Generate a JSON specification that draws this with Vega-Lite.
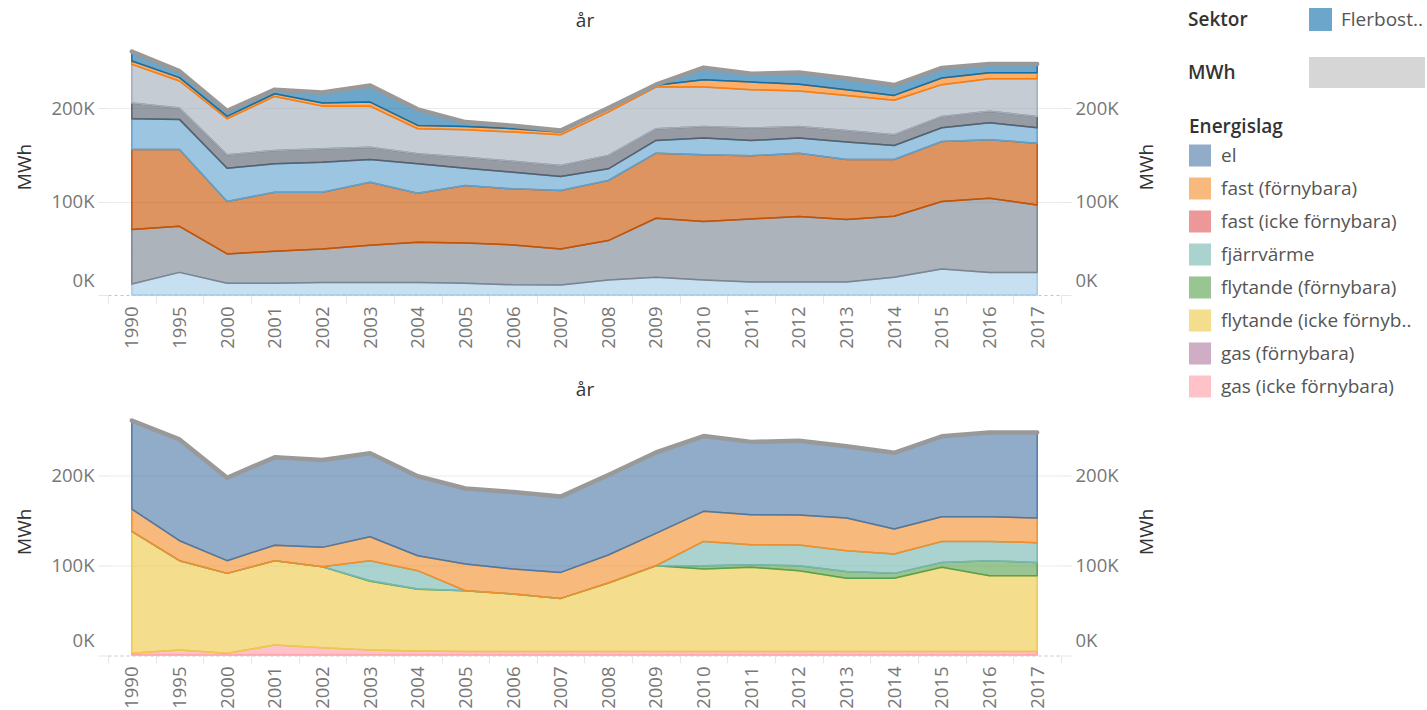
{
  "$schema": "https://vega.github.io/schema/vega-lite/v6.json",
  "padding": {"left": 15, "top": 8, "right": 0, "bottom": 0},
  "datasets": {
    "sektor": [
      {"år":"1990","Sektor":"Övrig tjänsteverksamhet","MWh":11800},{"år":"1995","Sektor":"Övrig tjänsteverksamhet","MWh":24200},{"år":"2000","Sektor":"Övrig tjänsteverksamhet","MWh":12500},{"år":"2001","Sektor":"Övrig tjänsteverksamhet","MWh":12500},{"år":"2002","Sektor":"Övrig tjänsteverksamhet","MWh":13500},{"år":"2003","Sektor":"Övrig tjänsteverksamhet","MWh":13500},{"år":"2004","Sektor":"Övrig tjänsteverksamhet","MWh":13500},{"år":"2005","Sektor":"Övrig tjänsteverksamhet","MWh":12500},{"år":"2006","Sektor":"Övrig tjänsteverksamhet","MWh":11000},{"år":"2007","Sektor":"Övrig tjänsteverksamhet","MWh":10700},{"år":"2008","Sektor":"Övrig tjänsteverksamhet","MWh":16000},{"år":"2009","Sektor":"Övrig tjänsteverksamhet","MWh":18900},{"år":"2010","Sektor":"Övrig tjänsteverksamhet","MWh":16000},{"år":"2011","Sektor":"Övrig tjänsteverksamhet","MWh":13900},{"år":"2012","Sektor":"Övrig tjänsteverksamhet","MWh":13900},{"år":"2013","Sektor":"Övrig tjänsteverksamhet","MWh":13900},{"år":"2014","Sektor":"Övrig tjänsteverksamhet","MWh":18900},{"år":"2015","Sektor":"Övrig tjänsteverksamhet","MWh":27800},{"år":"2016","Sektor":"Övrig tjänsteverksamhet","MWh":24200},{"år":"2017","Sektor":"Övrig tjänsteverksamhet","MWh":24200},
      {"år":"1990","Sektor":"Transporter","MWh":58200},{"år":"1995","Sektor":"Transporter","MWh":49300},{"år":"2000","Sektor":"Transporter","MWh":31400},{"år":"2001","Sektor":"Transporter","MWh":34300},{"år":"2002","Sektor":"Transporter","MWh":35800},{"år":"2003","Sektor":"Transporter","MWh":39700},{"år":"2004","Sektor":"Transporter","MWh":42900},{"år":"2005","Sektor":"Transporter","MWh":43200},{"år":"2006","Sektor":"Transporter","MWh":42600},{"år":"2007","Sektor":"Transporter","MWh":38600},{"år":"2008","Sektor":"Transporter","MWh":42200},{"år":"2009","Sektor":"Transporter","MWh":63200},{"år":"2010","Sektor":"Transporter","MWh":62600},{"år":"2011","Sektor":"Transporter","MWh":67500},{"år":"2012","Sektor":"Transporter","MWh":70000},{"år":"2013","Sektor":"Transporter","MWh":66800},{"år":"2014","Sektor":"Transporter","MWh":65400},{"år":"2015","Sektor":"Transporter","MWh":72200},{"år":"2016","Sektor":"Transporter","MWh":79400},{"år":"2017","Sektor":"Transporter","MWh":72200},
      {"år":"1990","Sektor":"Småhus","MWh":85700},{"år":"1995","Sektor":"Småhus","MWh":82200},{"år":"2000","Sektor":"Småhus","MWh":56100},{"år":"2001","Sektor":"Småhus","MWh":63200},{"år":"2002","Sektor":"Småhus","MWh":60700},{"år":"2003","Sektor":"Småhus","MWh":67500},{"år":"2004","Sektor":"Småhus","MWh":52500},{"år":"2005","Sektor":"Småhus","MWh":61400},{"år":"2006","Sektor":"Småhus","MWh":60000},{"år":"2007","Sektor":"Småhus","MWh":62500},{"år":"2008","Sektor":"Småhus","MWh":64300},{"år":"2009","Sektor":"Småhus","MWh":69700},{"år":"2010","Sektor":"Småhus","MWh":71400},{"år":"2011","Sektor":"Småhus","MWh":67600},{"år":"2012","Sektor":"Småhus","MWh":67900},{"år":"2013","Sektor":"Småhus","MWh":64300},{"år":"2014","Sektor":"Småhus","MWh":60700},{"år":"2015","Sektor":"Småhus","MWh":64300},{"år":"2016","Sektor":"Småhus","MWh":62500},{"år":"2017","Sektor":"Småhus","MWh":66100},
      {"år":"1990","Sektor":"Offentlig verksamhet","MWh":32900},{"år":"1995","Sektor":"Offentlig verksamhet","MWh":32200},{"år":"2000","Sektor":"Offentlig verksamhet","MWh":35700},{"år":"2001","Sektor":"Offentlig verksamhet","MWh":30400},{"år":"2002","Sektor":"Offentlig verksamhet","MWh":32100},{"år":"2003","Sektor":"Offentlig verksamhet","MWh":24300},{"år":"2004","Sektor":"Offentlig verksamhet","MWh":31500},{"år":"2005","Sektor":"Offentlig verksamhet","MWh":18600},{"år":"2006","Sektor":"Offentlig verksamhet","MWh":17800},{"år":"2007","Sektor":"Offentlig verksamhet","MWh":15000},{"år":"2008","Sektor":"Offentlig verksamhet","MWh":12500},{"år":"2009","Sektor":"Offentlig verksamhet","MWh":13600},{"år":"2010","Sektor":"Offentlig verksamhet","MWh":17900},{"år":"2011","Sektor":"Offentlig verksamhet","MWh":16400},{"år":"2012","Sektor":"Offentlig verksamhet","MWh":16100},{"år":"2013","Sektor":"Offentlig verksamhet","MWh":18600},{"år":"2014","Sektor":"Offentlig verksamhet","MWh":15000},{"år":"2015","Sektor":"Offentlig verksamhet","MWh":14700},{"år":"2016","Sektor":"Offentlig verksamhet","MWh":18200},{"år":"2017","Sektor":"Offentlig verksamhet","MWh":16500},
      {"år":"1990","Sektor":"Jordbruk, skogsbruk, fiske","MWh":16800},{"år":"1995","Sektor":"Jordbruk, skogsbruk, fiske","MWh":12100},{"år":"2000","Sektor":"Jordbruk, skogsbruk, fiske","MWh":14300},{"år":"2001","Sektor":"Jordbruk, skogsbruk, fiske","MWh":14300},{"år":"2002","Sektor":"Jordbruk, skogsbruk, fiske","MWh":14400},{"år":"2003","Sektor":"Jordbruk, skogsbruk, fiske","MWh":13200},{"år":"2004","Sektor":"Jordbruk, skogsbruk, fiske","MWh":10700},{"år":"2005","Sektor":"Jordbruk, skogsbruk, fiske","MWh":11800},{"år":"2006","Sektor":"Jordbruk, skogsbruk, fiske","MWh":11800},{"år":"2007","Sektor":"Jordbruk, skogsbruk, fiske","MWh":11800},{"år":"2008","Sektor":"Jordbruk, skogsbruk, fiske","MWh":14300},{"år":"2009","Sektor":"Jordbruk, skogsbruk, fiske","MWh":12500},{"år":"2010","Sektor":"Jordbruk, skogsbruk, fiske","MWh":12500},{"år":"2011","Sektor":"Jordbruk, skogsbruk, fiske","MWh":13200},{"år":"2012","Sektor":"Jordbruk, skogsbruk, fiske","MWh":12500},{"år":"2013","Sektor":"Jordbruk, skogsbruk, fiske","MWh":12500},{"år":"2014","Sektor":"Jordbruk, skogsbruk, fiske","MWh":11500},{"år":"2015","Sektor":"Jordbruk, skogsbruk, fiske","MWh":12100},{"år":"2016","Sektor":"Jordbruk, skogsbruk, fiske","MWh":12200},{"år":"2017","Sektor":"Jordbruk, skogsbruk, fiske","MWh":12100},
      {"år":"1990","Sektor":"Industri, byggverksamhet","MWh":41400},{"år":"1995","Sektor":"Industri, byggverksamhet","MWh":29000},{"år":"2000","Sektor":"Industri, byggverksamhet","MWh":38600},{"år":"2001","Sektor":"Industri, byggverksamhet","MWh":57800},{"år":"2002","Sektor":"Industri, byggverksamhet","MWh":45600},{"år":"2003","Sektor":"Industri, byggverksamhet","MWh":43900},{"år":"2004","Sektor":"Industri, byggverksamhet","MWh":26800},{"år":"2005","Sektor":"Industri, byggverksamhet","MWh":29300},{"år":"2006","Sektor":"Industri, byggverksamhet","MWh":31100},{"år":"2007","Sektor":"Industri, byggverksamhet","MWh":32900},{"år":"2008","Sektor":"Industri, byggverksamhet","MWh":46400},{"år":"2009","Sektor":"Industri, byggverksamhet","MWh":44600},{"år":"2010","Sektor":"Industri, byggverksamhet","MWh":42100},{"år":"2011","Sektor":"Industri, byggverksamhet","MWh":41100},{"år":"2012","Sektor":"Industri, byggverksamhet","MWh":37800},{"år":"2013","Sektor":"Industri, byggverksamhet","MWh":37500},{"år":"2014","Sektor":"Industri, byggverksamhet","MWh":36800},{"år":"2015","Sektor":"Industri, byggverksamhet","MWh":34000},{"år":"2016","Sektor":"Industri, byggverksamhet","MWh":35000},{"år":"2017","Sektor":"Industri, byggverksamhet","MWh":40400},
      {"år":"1990","Sektor":"Fritidshus","MWh":3600},{"år":"1995","Sektor":"Fritidshus","MWh":3600},{"år":"2000","Sektor":"Fritidshus","MWh":2500},{"år":"2001","Sektor":"Fritidshus","MWh":2900},{"år":"2002","Sektor":"Fritidshus","MWh":3300},{"år":"2003","Sektor":"Fritidshus","MWh":4300},{"år":"2004","Sektor":"Fritidshus","MWh":3600},{"år":"2005","Sektor":"Fritidshus","MWh":3600},{"år":"2006","Sektor":"Fritidshus","MWh":3600},{"år":"2007","Sektor":"Fritidshus","MWh":2800},{"år":"2008","Sektor":"Fritidshus","MWh":3600},{"år":"2009","Sektor":"Fritidshus","MWh":2000},{"år":"2010","Sektor":"Fritidshus","MWh":7900},{"år":"2011","Sektor":"Fritidshus","MWh":8200},{"år":"2012","Sektor":"Fritidshus","MWh":7200},{"år":"2013","Sektor":"Fritidshus","MWh":6100},{"år":"2014","Sektor":"Fritidshus","MWh":5300},{"år":"2015","Sektor":"Fritidshus","MWh":7100},{"år":"2016","Sektor":"Fritidshus","MWh":6400},{"år":"2017","Sektor":"Fritidshus","MWh":6400},
      {"år":"1990","Sektor":"Flerbostadshus","MWh":10100},{"år":"1995","Sektor":"Flerbostadshus","MWh":6900},{"år":"2000","Sektor":"Flerbostadshus","MWh":5900},{"år":"2001","Sektor":"Flerbostadshus","MWh":4300},{"år":"2002","Sektor":"Flerbostadshus","MWh":11200},{"år":"2003","Sektor":"Flerbostadshus","MWh":17800},{"år":"2004","Sektor":"Flerbostadshus","MWh":17200},{"år":"2005","Sektor":"Flerbostadshus","MWh":4600},{"år":"2006","Sektor":"Flerbostadshus","MWh":3100},{"år":"2007","Sektor":"Flerbostadshus","MWh":1700},{"år":"2008","Sektor":"Flerbostadshus","MWh":700},{"år":"2009","Sektor":"Flerbostadshus","MWh":500},{"år":"2010","Sektor":"Flerbostadshus","MWh":12900},{"år":"2011","Sektor":"Flerbostadshus","MWh":8900},{"år":"2012","Sektor":"Flerbostadshus","MWh":12600},{"år":"2013","Sektor":"Flerbostadshus","MWh":12300},{"år":"2014","Sektor":"Flerbostadshus","MWh":11100},{"år":"2015","Sektor":"Flerbostadshus","MWh":10800},{"år":"2016","Sektor":"Flerbostadshus","MWh":9300},{"år":"2017","Sektor":"Flerbostadshus","MWh":9300}
    ],
    "energi": [
      {"år":"1990","Energislag":"gas (icke förnybara)","MWh":2000},{"år":"1995","Energislag":"gas (icke förnybara)","MWh":5500},{"år":"2000","Energislag":"gas (icke förnybara)","MWh":2000},{"år":"2001","Energislag":"gas (icke förnybara)","MWh":11000},{"år":"2002","Energislag":"gas (icke förnybara)","MWh":8000},{"år":"2003","Energislag":"gas (icke förnybara)","MWh":5500},{"år":"2004","Energislag":"gas (icke förnybara)","MWh":4500},{"år":"2005","Energislag":"gas (icke förnybara)","MWh":4000},{"år":"2006","Energislag":"gas (icke förnybara)","MWh":4000},{"år":"2007","Energislag":"gas (icke förnybara)","MWh":4000},{"år":"2008","Energislag":"gas (icke förnybara)","MWh":4000},{"år":"2009","Energislag":"gas (icke förnybara)","MWh":4000},{"år":"2010","Energislag":"gas (icke förnybara)","MWh":4000},{"år":"2011","Energislag":"gas (icke förnybara)","MWh":4000},{"år":"2012","Energislag":"gas (icke förnybara)","MWh":4000},{"år":"2013","Energislag":"gas (icke förnybara)","MWh":4000},{"år":"2014","Energislag":"gas (icke förnybara)","MWh":4000},{"år":"2015","Energislag":"gas (icke förnybara)","MWh":4000},{"år":"2016","Energislag":"gas (icke förnybara)","MWh":4000},{"år":"2017","Energislag":"gas (icke förnybara)","MWh":4000},
      {"år":"1990","Energislag":"flytande (icke förnybara)","MWh":135400},{"år":"1995","Energislag":"flytande (icke förnybara)","MWh":99300},{"år":"2000","Energislag":"flytande (icke förnybara)","MWh":88700},{"år":"2001","Energislag":"flytande (icke förnybara)","MWh":93800},{"år":"2002","Energislag":"flytande (icke förnybara)","MWh":90000},{"år":"2003","Energislag":"flytande (icke förnybara)","MWh":76500},{"år":"2004","Energislag":"flytande (icke förnybara)","MWh":68500},{"år":"2005","Energislag":"flytande (icke förnybara)","MWh":67400},{"år":"2006","Energislag":"flytande (icke förnybara)","MWh":63800},{"år":"2007","Energislag":"flytande (icke förnybara)","MWh":58900},{"år":"2008","Energislag":"flytande (icke förnybara)","MWh":76000},{"år":"2009","Energislag":"flytande (icke förnybara)","MWh":95200},{"år":"2010","Energislag":"flytande (icke förnybara)","MWh":91600},{"år":"2011","Energislag":"flytande (icke förnybara)","MWh":93400},{"år":"2012","Energislag":"flytande (icke förnybara)","MWh":89700},{"år":"2013","Energislag":"flytande (icke förnybara)","MWh":81200},{"år":"2014","Energislag":"flytande (icke förnybara)","MWh":81200},{"år":"2015","Energislag":"flytande (icke förnybara)","MWh":93400},{"år":"2016","Energislag":"flytande (icke förnybara)","MWh":84100},{"år":"2017","Energislag":"flytande (icke förnybara)","MWh":84100},
      {"år":"1990","Energislag":"flytande (förnybara)","MWh":0},{"år":"1995","Energislag":"flytande (förnybara)","MWh":0},{"år":"2000","Energislag":"flytande (förnybara)","MWh":0},{"år":"2001","Energislag":"flytande (förnybara)","MWh":0},{"år":"2002","Energislag":"flytande (förnybara)","MWh":0},{"år":"2003","Energislag":"flytande (förnybara)","MWh":600},{"år":"2004","Energislag":"flytande (förnybara)","MWh":300},{"år":"2005","Energislag":"flytande (förnybara)","MWh":0},{"år":"2006","Energislag":"flytande (förnybara)","MWh":0},{"år":"2007","Energislag":"flytande (förnybara)","MWh":0},{"år":"2008","Energislag":"flytande (förnybara)","MWh":0},{"år":"2009","Energislag":"flytande (förnybara)","MWh":0},{"år":"2010","Energislag":"flytande (förnybara)","MWh":3600},{"år":"2011","Energislag":"flytande (förnybara)","MWh":2900},{"år":"2012","Energislag":"flytande (förnybara)","MWh":5500},{"år":"2013","Energislag":"flytande (förnybara)","MWh":7700},{"år":"2014","Energislag":"flytande (förnybara)","MWh":5500},{"år":"2015","Energislag":"flytande (förnybara)","MWh":5500},{"år":"2016","Energislag":"flytande (förnybara)","MWh":16700},{"år":"2017","Energislag":"flytande (förnybara)","MWh":14800},
      {"år":"1990","Energislag":"fjärrvärme","MWh":0},{"år":"1995","Energislag":"fjärrvärme","MWh":0},{"år":"2000","Energislag":"fjärrvärme","MWh":0},{"år":"2001","Energislag":"fjärrvärme","MWh":0},{"år":"2002","Energislag":"fjärrvärme","MWh":0},{"år":"2003","Energislag":"fjärrvärme","MWh":22200},{"år":"2004","Energislag":"fjärrvärme","MWh":20400},{"år":"2005","Energislag":"fjärrvärme","MWh":0},{"år":"2006","Energislag":"fjärrvärme","MWh":0},{"år":"2007","Energislag":"fjärrvärme","MWh":0},{"år":"2008","Energislag":"fjärrvärme","MWh":0},{"år":"2009","Energislag":"fjärrvärme","MWh":0},{"år":"2010","Energislag":"fjärrvärme","MWh":27000},{"år":"2011","Energislag":"fjärrvärme","MWh":22300},{"år":"2012","Energislag":"fjärrvärme","MWh":23000},{"år":"2013","Energislag":"fjärrvärme","MWh":23000},{"år":"2014","Energislag":"fjärrvärme","MWh":21500},{"år":"2015","Energislag":"fjärrvärme","MWh":23300},{"år":"2016","Energislag":"fjärrvärme","MWh":21400},{"år":"2017","Energislag":"fjärrvärme","MWh":21900},
      {"år":"1990","Energislag":"fast (förnybara)","MWh":24600},{"år":"1995","Energislag":"fast (förnybara)","MWh":22200},{"år":"2000","Energislag":"fast (förnybara)","MWh":14100},{"år":"2001","Energislag":"fast (förnybara)","MWh":17200},{"år":"2002","Energislag":"fast (förnybara)","MWh":21600},{"år":"2003","Energislag":"fast (förnybara)","MWh":26600},{"år":"2004","Energislag":"fast (förnybara)","MWh":16600},{"år":"2005","Energislag":"fast (förnybara)","MWh":29600},{"år":"2006","Energislag":"fast (förnybara)","MWh":27700},{"år":"2007","Energislag":"fast (förnybara)","MWh":28900},{"år":"2008","Energislag":"fast (förnybara)","MWh":31100},{"år":"2009","Energislag":"fast (förnybara)","MWh":35900},{"år":"2010","Energislag":"fast (förnybara)","MWh":33400},{"år":"2011","Energislag":"fast (förnybara)","MWh":33300},{"år":"2012","Energislag":"fast (förnybara)","MWh":33300},{"år":"2013","Energislag":"fast (förnybara)","MWh":36300},{"år":"2014","Energislag":"fast (förnybara)","MWh":27800},{"år":"2015","Energislag":"fast (förnybara)","MWh":27500},{"år":"2016","Energislag":"fast (förnybara)","MWh":27500},{"år":"2017","Energislag":"fast (förnybara)","MWh":27400},
      {"år":"1990","Energislag":"el","MWh":98500},{"år":"1995","Energislag":"el","MWh":112500},{"år":"2000","Energislag":"el","MWh":92200},{"år":"2001","Energislag":"el","MWh":97700},{"år":"2002","Energislag":"el","MWh":97000},{"år":"2003","Energislag":"el","MWh":92800},{"år":"2004","Energislag":"el","MWh":88400},{"år":"2005","Energislag":"el","MWh":84000},{"år":"2006","Energislag":"el","MWh":85500},{"år":"2007","Energislag":"el","MWh":84200},{"år":"2008","Energislag":"el","MWh":88900},{"år":"2009","Energislag":"el","MWh":89900},{"år":"2010","Energislag":"el","MWh":83700},{"år":"2011","Energislag":"el","MWh":80900},{"år":"2012","Energislag":"el","MWh":82500},{"år":"2013","Energislag":"el","MWh":79800},{"år":"2014","Energislag":"el","MWh":84700},{"år":"2015","Energislag":"el","MWh":89300},{"år":"2016","Energislag":"el","MWh":93500},{"år":"2017","Energislag":"el","MWh":95000}
    ]
  },
  "bounds": "flush",
  "spacing": 112.5,
  "vconcat": [
    {
      "width": 953,
      "height": 257,
      "data": {"name": "sektor"},
      "layer": [
        {
          "mark": {"type": "area", "fillOpacity": 0.62, "strokeWidth": 1.5, "strokeOpacity": 1, "strokeJoin": "round"},
          "encoding": {
            "x": {"field": "år", "type": "ordinal", "bandPosition": 0.5, "scale": {"type": "band", "paddingInner": 0, "paddingOuter": 0},
                  "axis": {"title": null, "labelAngle": 270, "tickBand": "extent", "tickSize": 8, "labelPadding": 3, "grid": false}},
            "y": {"field": "MWh", "type": "quantitative", "stack": "zero", "scale": {"domain": [0, 275000], "nice": false},
                  "axis": {"title": "MWh", "values": [0, 100000, 200000], "labelExpr": "(datum.value/1000) + 'K'", "tickSize": 10, "labelPadding": 4, "titlePadding": 16, "labelFlush": true, "labelFlushOffset": -5,
                           "gridColor": {"condition": {"test": "datum.value === 0", "value": "#c4c4c4"}, "value": "#ebebeb"},
                           "gridDash": {"condition": {"test": "datum.value === 0", "value": [3, 3]}, "value": []}}},
            "order": {"field": "Sektor", "sort": "descending"},
            "fill": {"field": "Sektor", "type": "nominal",
                     "scale": {"domain": ["Flerbostadshus","Fritidshus","Industri, byggverksamhet","Jordbruk, skogsbruk, fiske","Offentlig verksamhet","Småhus","Transporter","Övrig tjänsteverksamhet"],
                               "range": ["#1170aa","#fc7d0b","#a3acb9","#57606c","#5fa2ce","#c85200","#7b848f","#a3cce9"]},
                     "legend": {"orient": "none", "legendX": 1080, "legendY": -30, "direction": "horizontal", "titleOrient": "left", "title": "Sektor",
                                "values": ["Flerbostadshus"], "labelExpr": "'Flerbost..'", "symbolType": "square", "symbolSize": 529, "symbolOpacity": 0.62,
                                "symbolStrokeWidth": 0, "titlePadding": 61, "labelOffset": 9}},
            "stroke": {"field": "Sektor", "type": "nominal",
                       "scale": {"domain": ["Flerbostadshus","Fritidshus","Industri, byggverksamhet","Jordbruk, skogsbruk, fiske","Offentlig verksamhet","Småhus","Transporter","Övrig tjänsteverksamhet"],
                                 "range": ["#1170aa","#fc7d0b","#a3acb9","#57606c","#5fa2ce","#c85200","#7b848f","#a3cce9"]},
                       "legend": null}
          }
        },
        {
          "mark": {"type": "line", "color": "#999999", "strokeWidth": 4.5, "strokeCap": "round", "strokeJoin": "round"},
          "encoding": {
            "x": {"field": "år", "type": "ordinal", "bandPosition": 0.5,
                  "axis": {"orient": "top", "title": "år", "labels": false, "ticks": false, "domain": false, "grid": false, "titlePadding": 8}},
            "y": {"aggregate": "sum", "field": "MWh", "type": "quantitative", "scale": {"domain": [0, 275000], "nice": false},
                  "axis": {"orient": "right", "title": "MWh", "titleAngle": 270, "values": [0, 100000, 200000], "labelExpr": "(datum.value/1000) + 'K'", "tickSize": 10, "labelPadding": 4, "titlePadding": 38, "grid": false, "labelFlush": true, "labelFlushOffset": -5}}
          }
        },
        {
          "mark": {"type": "line", "strokeOpacity": 0},
          "encoding": {
            "x": {"field": "år", "type": "ordinal", "bandPosition": 0.5, "axis": null},
            "y": {"aggregate": "sum", "field": "MWh", "type": "quantitative", "scale": {"domain": [0, 275000], "nice": false}, "axis": null},
            "color": {"aggregate": "sum", "field": "MWh", "type": "quantitative", "scale": {"range": ["#d6d6d6", "#d6d6d6"]},
                      "legend": {"orient": "none", "legendX": 1080, "legendY": 19, "direction": "horizontal", "titleOrient": "left", "title": "MWh",
                                 "gradientLength": 116, "gradientThickness": 31, "gradientStrokeWidth": 0, "labelOpacity": 0, "labelFontSize": 1, "labelExpr": "''", "titlePadding": 73}}
          }
        }
      ],
      "resolve": {"scale": {"y": "independent"}, "axis": {"x": "independent"}}
    },
    {
      "width": 953,
      "height": 247.5,
      "data": {"name": "energi"},
      "layer": [
        {
          "mark": {"type": "area", "fillOpacity": 0.62, "strokeWidth": 1.5, "strokeOpacity": 1, "strokeJoin": "round"},
          "encoding": {
            "x": {"field": "år", "type": "ordinal", "bandPosition": 0.5, "scale": {"type": "band", "paddingInner": 0, "paddingOuter": 0},
                  "axis": {"title": null, "labelAngle": 270, "tickBand": "extent", "tickSize": 8, "labelPadding": 3, "grid": false}},
            "y": {"field": "MWh", "type": "quantitative", "stack": "zero", "scale": {"domain": [0, 275000], "nice": false},
                  "axis": {"title": "MWh", "values": [0, 100000, 200000], "labelExpr": "(datum.value/1000) + 'K'", "tickSize": 10, "labelPadding": 4, "titlePadding": 16, "labelFlush": true, "labelFlushOffset": -5,
                           "gridColor": {"condition": {"test": "datum.value === 0", "value": "#c4c4c4"}, "value": "#ebebeb"},
                           "gridDash": {"condition": {"test": "datum.value === 0", "value": [3, 3]}, "value": []}}},
            "order": {"field": "Energislag", "sort": "descending"},
            "fill": {"field": "Energislag", "type": "nominal",
                     "scale": {"domain": ["el","fast (förnybara)","fast (icke förnybara)","fjärrvärme","flytande (förnybara)","flytande (icke förnybara)","gas (förnybara)","gas (icke förnybara)"],
                               "range": ["#4e79a7","#f28e2b","#e15759","#76b7b2","#59a14f","#edc948","#b07aa1","#ff9da7"]},
                     "legend": {"orient": "none", "legendX": 1081, "legendY": -290, "title": "Energislag", "symbolType": "square", "symbolSize": 484,
                                "rowPadding": 11, "symbolOpacity": 0.62, "symbolStrokeWidth": 0, "labelOffset": 10, "titlePadding": 8, "labelLimit": 300,
                                "labelExpr": "datum.label == 'flytande (icke förnybara)' ? 'flytande (icke förnyb..' : datum.label"}},
            "stroke": {"field": "Energislag", "type": "nominal",
                       "scale": {"domain": ["el","fast (förnybara)","fast (icke förnybara)","fjärrvärme","flytande (förnybara)","flytande (icke förnybara)","gas (förnybara)","gas (icke förnybara)"],
                                 "range": ["#4e79a7","#f28e2b","#e15759","#76b7b2","#59a14f","#edc948","#b07aa1","#ff9da7"]},
                       "legend": null}
          }
        },
        {
          "mark": {"type": "line", "color": "#999999", "strokeWidth": 4.5, "strokeCap": "round", "strokeJoin": "round"},
          "encoding": {
            "x": {"field": "år", "type": "ordinal", "bandPosition": 0.5,
                  "axis": {"orient": "top", "title": "år", "labels": false, "ticks": false, "domain": false, "grid": false, "titlePadding": 8}},
            "y": {"aggregate": "sum", "field": "MWh", "type": "quantitative", "scale": {"domain": [0, 275000], "nice": false},
                  "axis": {"orient": "right", "title": "MWh", "titleAngle": 270, "values": [0, 100000, 200000], "labelExpr": "(datum.value/1000) + 'K'", "tickSize": 10, "labelPadding": 4, "titlePadding": 38, "grid": false, "labelFlush": true, "labelFlushOffset": -5}}
          }
        }
      ],
      "resolve": {"scale": {"y": "independent"}, "axis": {"x": "independent"}}
    }
  ],
  "resolve": {"scale": {"fill": "independent", "stroke": "independent", "color": "independent"}},
  "config": {
    "font": "Open Sans",
    "view": {"stroke": null},
    "axis": {"labelFont": "Open Sans", "titleFont": "Open Sans", "labelFontSize": 18.5, "labelColor": "#777777", "titleFontSize": 19, "titleColor": "#333333", "titleFontWeight": "normal", "tickColor": "#e6e6e6", "domain": false},
    "legend": {"labelFont": "Open Sans", "titleFont": "Open Sans", "labelFontSize": 19, "titleFontSize": 19, "labelColor": "#555555", "titleColor": "#333333", "titleFontWeight": 600},
    "title": {"font": "Open Sans", "fontSize": 19, "fontWeight": "normal", "color": "#333333"}
  }
}
